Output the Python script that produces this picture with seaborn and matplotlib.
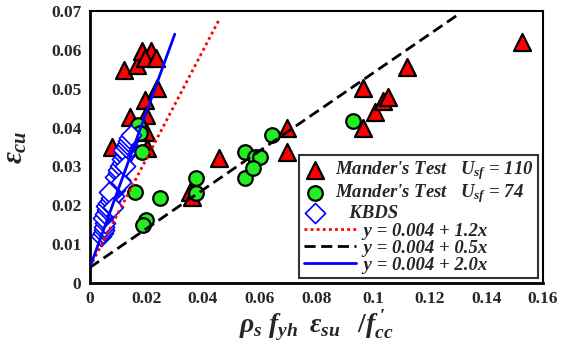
import matplotlib
matplotlib.use("Agg")
import matplotlib.pyplot as plt
from matplotlib.lines import Line2D
from matplotlib.legend_handler import HandlerLine2D
import numpy as np
import seaborn as sns

# Mander's test, Usf = 110 (triangles)
tri_x = [0.0120, 0.0166, 0.0184, 0.0216, 0.0194, 0.0233, 0.0237, 0.0194, 0.0141, 0.0198,
         0.0198, 0.0078, 0.0201, 0.0353, 0.0360, 0.0456, 0.0696, 0.0696, 0.0965, 0.0965,
         0.1007, 0.1035, 0.1053, 0.1120, 0.1526]
tri_y = [0.0548, 0.0561, 0.0597, 0.0597, 0.0579, 0.0579, 0.0502, 0.0470, 0.0427, 0.0432,
         0.0389, 0.0350, 0.0347, 0.0234, 0.0222, 0.0322, 0.0400, 0.0337, 0.0502, 0.0400,
         0.0440, 0.0468, 0.0479, 0.0556, 0.0620]

# Mander's test, Usf = 74 (circles)
cir_x = [0.0170, 0.0177, 0.0184, 0.0159, 0.0200, 0.0187, 0.0247, 0.0375, 0.0375,
         0.0548, 0.0583, 0.0600, 0.0548, 0.0576, 0.0643, 0.0929]
cir_y = [0.0406, 0.0386, 0.0337, 0.0234, 0.0162, 0.0150, 0.0219, 0.0271, 0.0233,
         0.0337, 0.0324, 0.0324, 0.0270, 0.0296, 0.0381, 0.0417]

# KBDS (diamonds)
kb_x = [0.0040, 0.0045, 0.0050, 0.0050, 0.0055, 0.0048, 0.0055, 0.0060, 0.0058, 0.0065,
        0.0070, 0.0075, 0.0080, 0.0085, 0.0090, 0.0095, 0.0100, 0.0105, 0.0088, 0.0098,
        0.0100, 0.0108, 0.0112, 0.0115, 0.0120, 0.0125, 0.0118, 0.0128, 0.0132, 0.0135,
        0.0140, 0.0110, 0.0125, 0.0145, 0.0068, 0.0082]
kb_y = [0.0120, 0.0128, 0.0136, 0.0145, 0.0155, 0.0168, 0.0178, 0.0188, 0.0198, 0.0205,
        0.0212, 0.0220, 0.0232, 0.0225, 0.0240, 0.0250, 0.0258, 0.0266, 0.0272, 0.0282,
        0.0292, 0.0300, 0.0308, 0.0318, 0.0326, 0.0334, 0.0342, 0.0350, 0.0358, 0.0365,
        0.0372, 0.0260, 0.0300, 0.0380, 0.0235, 0.0195]

# fitted lines, end points as drawn
red_x = [0.001, 0.0455]
red_y = [0.0055, 0.0675]
blk_x = [0.0, 0.130]
blk_y = [0.004, 0.069]
blu_x = [0.0005, 0.0300]
blu_y = [0.0050, 0.0640]

labels = ["Mander's Test   $U_{sf}$ = 110",
          "Mander's Test   $U_{sf}$ = 74",
          "   KBDS",
          "      y = 0.004 + 1.2x",
          "      y = 0.004 + 0.5x",
          "      y = 0.004 + 2.0x"]


class LongLine(HandlerLine2D):
    # line handles are drawn longer than the marker handles
    def create_artists(self, legend, orig_handle, xdescent, ydescent, width, height, fontsize, trans):
        return super().create_artists(legend, orig_handle, xdescent, ydescent,
                                      width * 2.3, height, fontsize, trans)


sns.set_style("white")
plt.rcParams['font.family'] = ['Liberation Serif', 'DejaVu Serif']
plt.rcParams['mathtext.fontset'] = 'custom'
plt.rcParams['mathtext.it'] = 'Liberation Serif:italic:bold'
plt.rcParams['mathtext.rm'] = 'Liberation Serif:bold'
plt.rcParams['mathtext.bf'] = 'Liberation Serif:bold'

fig = plt.figure(figsize=(5.72, 3.5), dpi=100)
ax = fig.add_axes([0.157, 0.191, 0.792, 0.778])

sns.scatterplot(x=tri_x, y=tri_y, ax=ax, marker='^', s=150, color='red',
                edgecolor='black', linewidth=1.6, label=labels[0], zorder=3)
sns.scatterplot(x=cir_x, y=cir_y, ax=ax, marker='o', s=110, color='#22ee22',
                edgecolor='black', linewidth=1.6, label=labels[1], zorder=3)
sns.scatterplot(x=kb_x, y=kb_y, ax=ax, marker='D', s=105, color='white',
                edgecolor='blue', linewidth=1.2, label=labels[2], zorder=4)

sns.lineplot(x=red_x, y=red_y, ax=ax, color='red', linestyle=(0, (1, 1.2)),
             linewidth=2, label=labels[3], zorder=5)
sns.lineplot(x=blk_x, y=blk_y, ax=ax, color='black', linestyle=(0, (4, 2)),
             linewidth=2, label=labels[4], zorder=5)
sns.lineplot(x=blu_x, y=blu_y, ax=ax, color='blue', linestyle='-',
             linewidth=2, label=labels[5], zorder=5)

ax.set_xlim(0, 0.16)
ax.set_ylim(0, 0.07)
ax.set_xticks(np.arange(0, 0.161, 0.02))
ax.set_yticks(np.arange(0, 0.071, 0.01))
ax.set_xticklabels(['0', '0.02', '0.04', '0.06', '0.08', '0.1', '0.12', '0.14', '0.16'])
ax.set_yticklabels(['0', '0.01', '0.02', '0.03', '0.04', '0.05', '0.06', '0.07'])
ax.tick_params(direction='inout', length=8, width=1.5, labelsize=12.5, pad=2)
for t in ax.get_xticklabels() + ax.get_yticklabels():
    t.set_fontweight('bold')
for sp in ax.spines.values():
    sp.set_linewidth(1.5)
    sp.set_color('black')
ax.spines['left'].set_linewidth(2)
ax.spines['bottom'].set_linewidth(2)

ax.set_xlabel(r"$\rho_s\;f_{yh}\;\;\varepsilon_{su}\;\;\;/f^{\,\prime}_{cc}$", fontsize=20, labelpad=1)
ax.set_ylabel(r"$\varepsilon_{cu}$", fontsize=21, labelpad=16)

leg = ax.legend(loc='lower right', frameon=True, fancybox=False,
                handlelength=1.2, borderpad=0.25, labelspacing=0.0, handletextpad=0.45,
                borderaxespad=0.25, handler_map={Line2D: LongLine()},
                prop={'family': 'Liberation Serif', 'style': 'italic',
                      'weight': 'bold', 'size': 13.5})
leg.get_frame().set_edgecolor('black')
leg.get_frame().set_linewidth(1.5)

fig.savefig("out.png", dpi=100)
